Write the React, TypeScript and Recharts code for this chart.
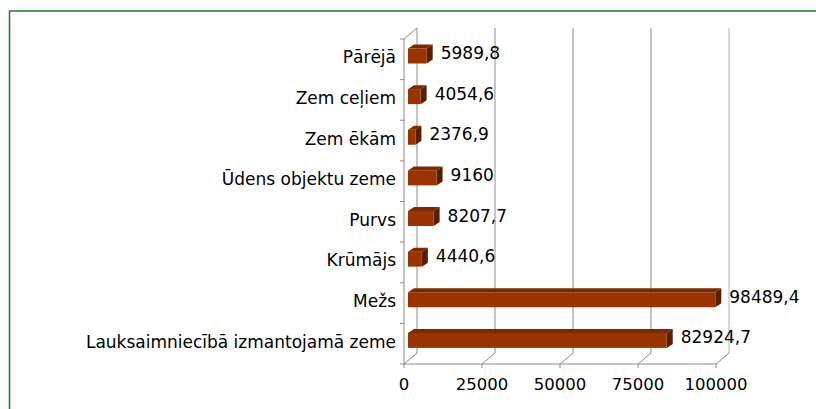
import React from "react";
import { BarChart, Bar, XAxis, YAxis, CartesianGrid } from "recharts";

const categories = [
  "Pārējā",
  "Zem ceļiem",
  "Zem ēkām",
  "Ūdens objektu zeme",
  "Purvs",
  "Krūmājs",
  "Mežs",
  "Lauksaimniecībā izmantojamā zeme",
];
const values = [5989.8, 4054.6, 2376.9, 9160, 8207.7, 4440.6, 98489.4, 82924.7];
const valueLabels = ["5989,8", "4054,6", "2376,9", "9160", "8207,7", "4440,6", "98489,4", "82924,7"];
const xTicks = [0, 25000, 50000, 75000, 100000];

const data = categories.map((c, i) => ({ name: c, value: values[i], label: valueLabels[i] }));

const FONT = "'DejaVu Sans', Verdana, sans-serif";
const DX = 13; // wall depth
const DY = -11;
const GRID = "#8c8c8c";

const Bar3D = (props: any) => {
  const { x, y, width, height, payload } = props;
  const fx = x + 4;
  const fy = y - 3.5;
  const w = Math.max(width, 0);
  const h = height;
  const ox = 6;
  const oy = -4;
  return (
    <g>
      <polygon
        points={`${fx},${fy} ${fx + ox},${fy + oy} ${fx + w + ox},${fy + oy} ${fx + w},${fy}`}
        fill="#7a2900"
      />
      <polygon
        points={`${fx + w},${fy} ${fx + w + ox},${fy + oy} ${fx + w + ox},${fy + h + oy} ${fx + w},${fy + h}`}
        fill="#5a1d00"
      />
      <rect x={fx} y={fy} width={w} height={h} fill="#993300" />
      <text
        x={fx + w + ox + 8}
        y={fy + h / 2 - 3}
        dominantBaseline="central"
        fontFamily={FONT}
        fontSize={17}
        fill="#000"
      >
        {payload.label}
      </text>
    </g>
  );
};

const CatTick = (props: any) => {
  const { x, y, payload, index } = props;
  const half = payload && payload.offset ? payload.offset : 20.3125;
  const ax = x + 8;
  return (
    <g>
      <text
        x={x}
        y={y - 2}
        textAnchor="end"
        dominantBaseline="central"
        fontFamily={FONT}
        fontSize={17}
        fill="#000"
      >
        {payload.value}
      </text>
      <line x1={ax - 4} x2={ax} y1={y - half} y2={y - half} stroke={GRID} />
      {index === categories.length - 1 && (
        <line x1={ax - 4} x2={ax} y1={y + half} y2={y + half} stroke={GRID} />
      )}
    </g>
  );
};

const GridLine = (props: any) => {
  const { x1, y1, y2, index } = props;
  const isLast = index === xTicks.length - 1;
  return (
    <g key={`g-${index}`}>
      <line x1={x1 + DX} x2={x1 + DX} y1={y1 + DY} y2={y2 + DY} stroke={isLast ? "#b5b5b5" : GRID} />
      <line x1={x1} y1={y2} x2={x1 + DX} y2={y2 + DY} stroke={GRID} />
      {index === 0 && <line x1={x1} y1={y1} x2={x1 + DX} y2={y1 + DY} stroke={GRID} />}
    </g>
  );
};

export default function App() {
  return (
    <div style={{ position: "absolute", left: 0, top: 0, width: 816, height: 409, background: "#fff" }}>
      <svg
        width={816}
        height={409}
        style={{ position: "absolute", left: 0, top: 0 }}
      >
        <rect x={9.5} y={11} width={900} height={500} fill="none" stroke="#1f7a1f" strokeWidth={1.5} />
      </svg>
      <div style={{ position: "absolute", left: 0, top: 0 }}>
        <BarChart
          width={816}
          height={409}
          data={data}
          layout="vertical"
          margin={{ top: 39, right: 100, bottom: 15, left: 4 }}
          barCategoryGap={0}
        >
          <CartesianGrid horizontal={false} vertical={GridLine as any} stroke={GRID} />
          <XAxis
            type="number"
            domain={[0, 100000]}
            ticks={xTicks}
            interval={0}
            axisLine={{ stroke: GRID }}
            tickLine={{ stroke: GRID }}
            tickSize={4}
            height={30}
            tick={{ fontFamily: FONT, fontSize: 16.5, fill: "#000" }}
            tickMargin={10}
          />
          <YAxis
            type="category"
            dataKey="name"
            width={400}
            axisLine={{ stroke: GRID }}
            tickLine={false}
            tick={CatTick as any}
            tickMargin={0}
            tickSize={8}
            interval={0}
          />
          <Bar dataKey="value" barSize={15} shape={Bar3D} isAnimationActive={false} />
        </BarChart>
      </div>
    </div>
  );
}
